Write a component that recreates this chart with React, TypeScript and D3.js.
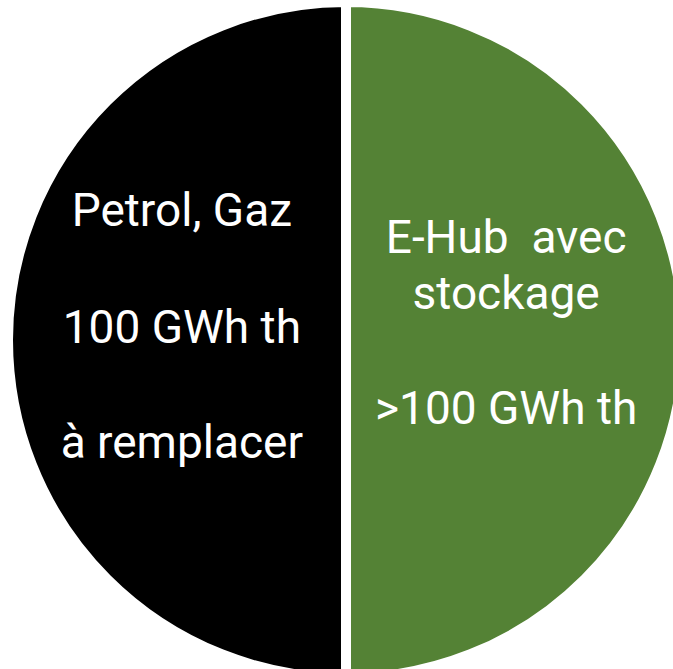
import * as d3 from "d3";

// two halves of the pie, right one first (pie starts at 12 o'clock, clockwise)
const categories = ["E-Hub avec stockage", "Petrol, Gaz"];
const values = [100, 100];
const colors = ["#548235", "#000000"];
const labelLines = [
  ["E-Hub  avec", "stockage", "", ">100 GWh th"],
  ["Petrol, Gaz", "", "100 GWh th", "", "à remplacer"],
];
const lineOffsets = [
  [-87, -31, 0, 84],
  [-114, 0, 3, 0, 118],
];

export default function App({
  width = 673,
  height = 669,
  cx = 346,
  cy = 340,
  radius = 333,
  gap = 10,
}) {
  const pie = d3
    .pie<number>()
    .sort(null)
    .startAngle(0)
    .endAngle(2 * Math.PI);
  const arcs = pie(values);

  // stroke eats half of the gap on each side, so grow the outer radius by it
  const arc = d3
    .arc<d3.PieArcDatum<number>>()
    .innerRadius(0)
    .outerRadius(radius + gap / 2);

  const labelArc = d3
    .arc<d3.PieArcDatum<number>>()
    .innerRadius(radius * 0.487)
    .outerRadius(radius * 0.487);

  return (
    <svg
      width={width}
      height={height}
      style={{ position: "absolute", left: 0, top: 0 }}
    >
      <title>{categories.join(" / ")}</title>
      <g transform={`translate(${cx}, ${cy})`}>
        {arcs.map((a, i) => (
          <path
            key={categories[i]}
            d={arc(a) ?? ""}
            fill={colors[i]}
            stroke="#ffffff"
            strokeWidth={gap}
            strokeLinejoin="miter"
          />
        ))}
        {arcs.map((a, i) => {
          const [lx] = labelArc.centroid(a);
          return (
            <text
              key={`lbl-${i}`}
              fill="#ffffff"
              fontFamily="Roboto, sans-serif"
              fontSize={46}
              textAnchor="middle"
              transform="translate(-2, 0)"
            >
              {labelLines[i].map((line, j) =>
                line ? (
                  // biome-ignore lint/suspicious/noArrayIndexKey: static lines
                  <tspan key={j} x={lx} y={lineOffsets[i][j]} xmlSpace="preserve">
                    {line}
                  </tspan>
                ) : null
              )}
            </text>
          );
        })}
      </g>
    </svg>
  );
}
